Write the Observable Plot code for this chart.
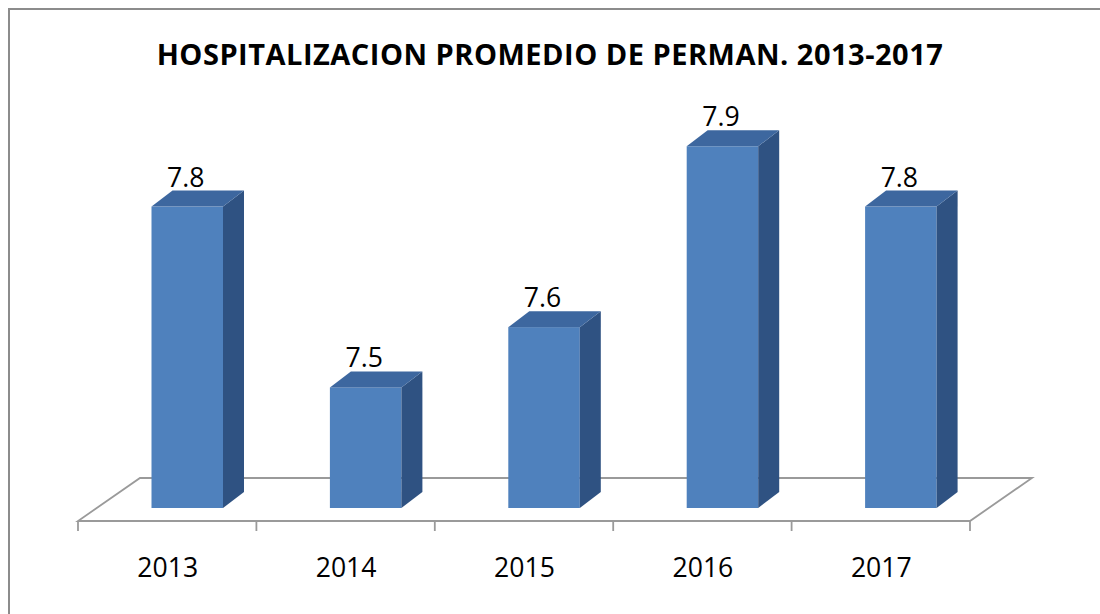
<!DOCTYPE html>
<html><head><meta charset="utf-8">
<script src="https://cdn.jsdelivr.net/npm/d3@7"></script>
<script src="https://cdn.jsdelivr.net/npm/@observablehq/plot@0.6"></script>
<style>
html,body{margin:0;padding:0;background:#fff;overflow:hidden;width:1100px;height:614px;}
#frame{position:absolute;left:8px;top:8px;width:1200px;height:800px;border:2px solid #8c8c8c;pointer-events:none;box-sizing:border-box;}
#title{height:80px;box-sizing:border-box;padding-top:39px;font-family:"Open Sans",sans-serif;font-weight:bold;font-size:29px;line-height:29px;letter-spacing:0.5px;text-align:center;color:#000;white-space:nowrap;}
#chart svg{display:block;}
</style></head>
<body>
<div id="title"></div>
<div id="chart"></div>
<div id="frame"></div>
<script>
const titleText = "HOSPITALIZACION PROMEDIO DE PERMAN. 2013-2017";
const years = ["2013", "2014", "2015", "2016", "2017"];
const values = [7.8, 7.5, 7.6, 7.9, 7.8];
const yDomain = [7.3, 8.0];

const data = years.map((year, i) => ({year, value: values[i]}));

const W = 1100, H = 534, ML = 78, MR = 130, MT = 6, MB = 106;
const BW = (W - ML - MR) / years.length;
const INSET_L = 73.5, BAR_W = 71.5, DX = 21, DY = 16;
const FLOOR_DX = 62, FLOOR_DY = 43, FLOOR_FRONT = 13, TICK = 10;
const FRONT = "#4f81bd", TOP = "#3d679f", SIDE = "#2f5282", GRID = "#9a9a9a";
const FONT = "'Open Sans', sans-serif";

document.getElementById("title").textContent = titleText;

function floorMark(index, {x, y}) {
  const g = d3.create("svg:g").attr("fill", "none").attr("stroke", GRID).attr("stroke-width", 1.8);
  const bw = x.bandwidth();
  const x0 = x(years[0]), x1 = x(years[years.length - 1]) + bw;
  const yf = y(yDomain[0]) + FLOOR_FRONT;
  g.append("path").attr("d",
    `M${x0},${yf}L${x1},${yf}L${x1 + FLOOR_DX},${yf - FLOOR_DY}L${x0 + FLOOR_DX},${yf - FLOOR_DY}Z`);
  const ticks = years.map(d => x(d)).concat([x1]);
  for (const t of ticks) g.append("line").attr("x1", t).attr("x2", t).attr("y1", yf).attr("y2", yf + TICK);
  return g.node();
}

function boxFaces(index, {x, y}) {
  const g = d3.create("svg:g");
  const yb = y(yDomain[0]);
  for (const d of data) {
    const xl = x(d.year) + INSET_L, xr = xl + BAR_W, yt = y(d.value);
    g.append("path")
      .attr("d", `M${xr},${yt}L${xr + DX},${yt - DY}L${xr + DX},${yb - DY}L${xr},${yb}Z`)
      .attr("fill", SIDE);
    g.append("path")
      .attr("d", `M${xl},${yt}L${xl + DX},${yt - DY}L${xr + DX},${yt - DY}L${xr},${yt}Z`)
      .attr("fill", TOP);
  }
  return g.node();
}

const chart = Plot.plot({
  width: W, height: H,
  marginLeft: ML, marginRight: MR, marginTop: MT, marginBottom: MB,
  style: {fontFamily: FONT, fontSize: "26.6px", color: "#000", background: "transparent"},
  x: {domain: years, padding: 0, round: false, tickSize: 0, tickPadding: 50, label: null},
  y: {domain: yDomain, axis: null},
  marks: [
    floorMark,
    Plot.barY(data, {x: "year", y1: yDomain[0], y2: "value", fill: FRONT,
      insetLeft: INSET_L, insetRight: BW - INSET_L - BAR_W}),
    boxFaces,
    Plot.text(data, {x: "year", y: "value", text: d => d.value.toFixed(1),
      dx: INSET_L + BAR_W / 2 - BW / 2 - 2, dy: -20.5, lineAnchor: "bottom",
      fill: "#000", fontSize: 26.6})
  ]
});
document.getElementById("chart").appendChild(chart);
</script>
</body></html>
